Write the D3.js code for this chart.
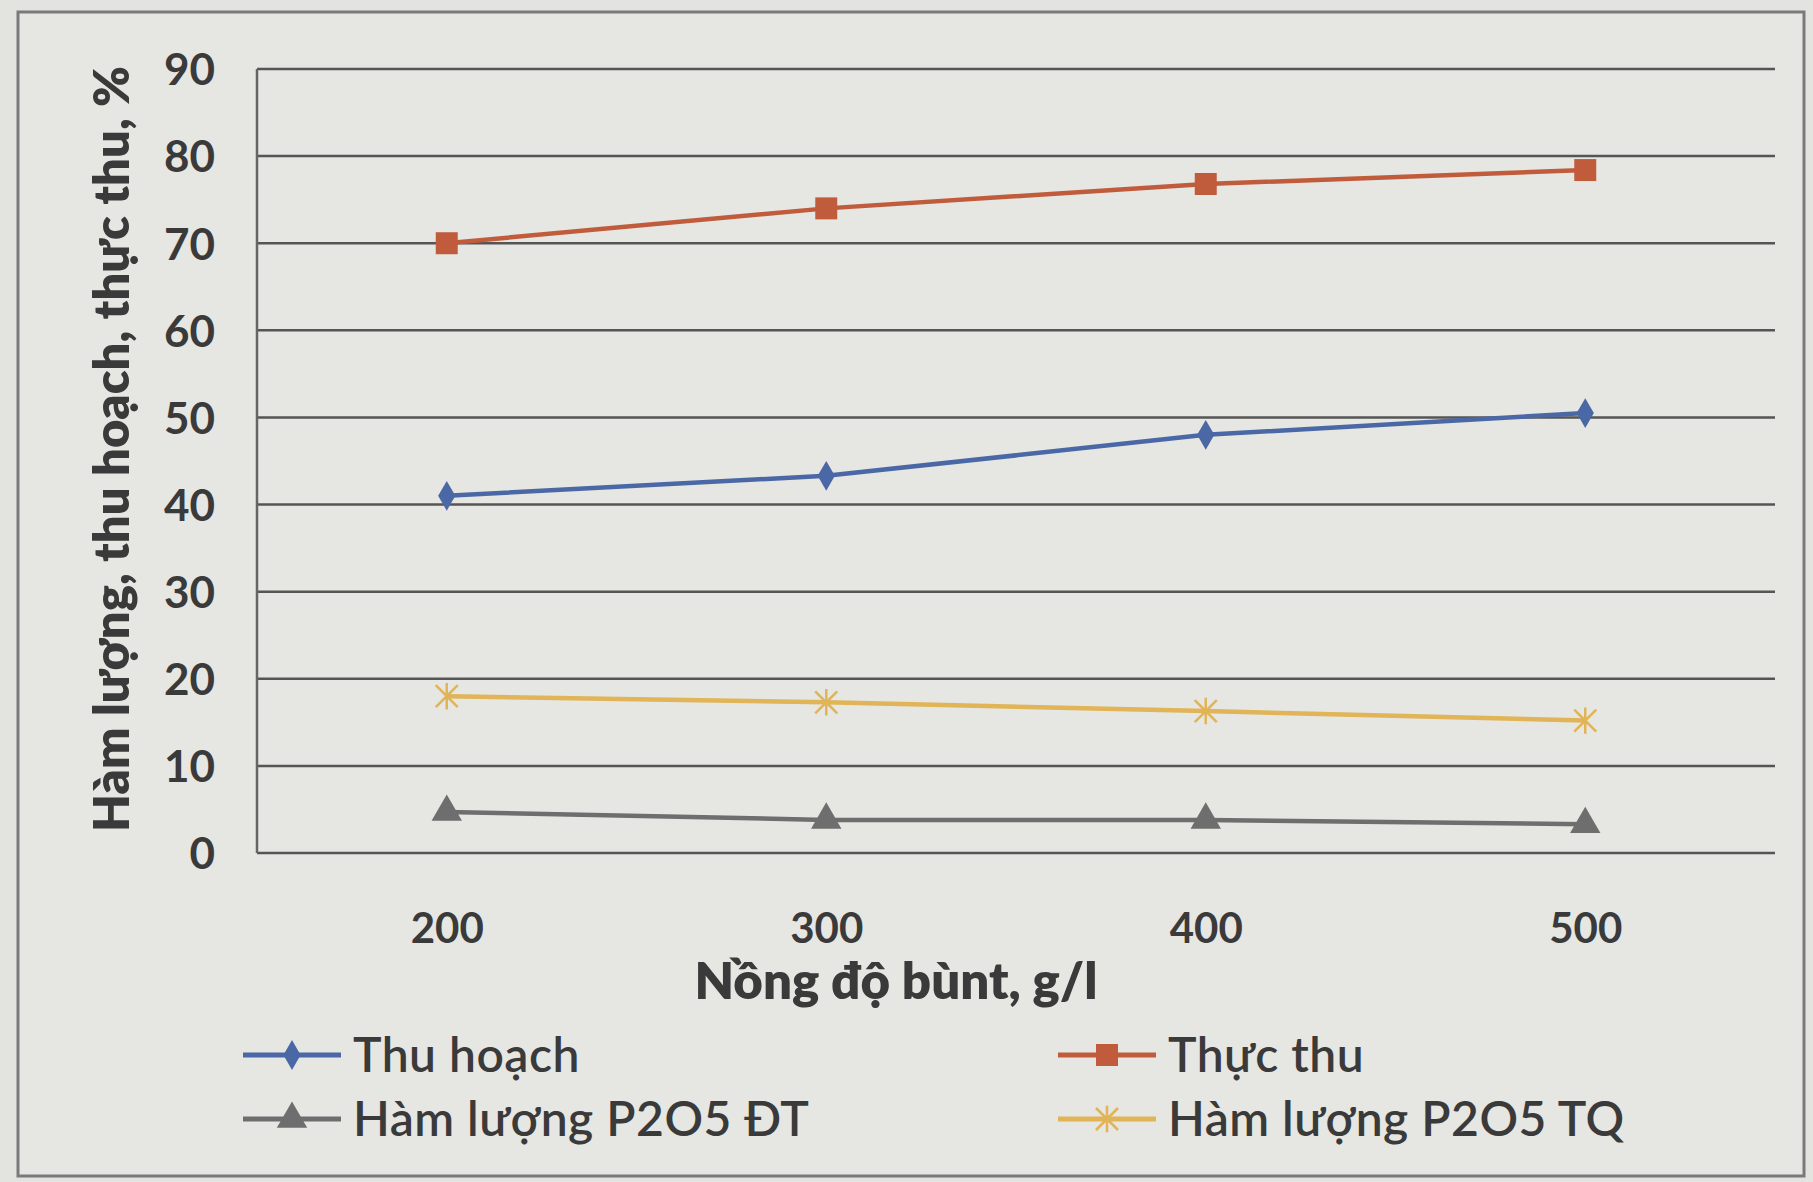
<!DOCTYPE html>
<html><head><meta charset="utf-8">
<script src="https://cdn.jsdelivr.net/npm/d3@7"></script>
<style>
html,body{margin:0;padding:0;background:#e3e3df;}
text{font-family:Lato, "Open Sans", sans-serif;fill:#3a3a3a;}
</style></head>
<body><svg id="c" width="1813" height="1182"></svg>
<script>
const categories = ["200","300","400","500"];
const thuHoach = [41, 43.3, 48, 50.5];
const thucThu = [70, 74, 76.8, 78.4];
const p2o5DT = [4.7, 3.8, 3.8, 3.3];
const p2o5TQ = [18, 17.3, 16.3, 15.2];
const yTicks = [0,10,20,30,40,50,60,70,80,90];
const seriesNames = ["Thu hoạch","Thực thu","Hàm lượng P2O5 ĐT","Hàm lượng P2O5 TQ"];
const colors = ["#4a67a6","#c05c3c","#6e6e6e","#e0b457"];
const symbols = [d3.symbolDiamond, d3.symbolSquare, d3.symbolTriangle, "x"];
const series = [thuHoach, thucThu, p2o5DT, p2o5TQ];

const svg = d3.select("#c");
svg.append("rect").attr("x",0).attr("y",0).attr("width",1813).attr("height",1182).attr("fill","#e3e3df");
svg.append("rect").attr("x",18).attr("y",12).attr("width",1786).attr("height",1164)
  .attr("fill","#e6e6e2").attr("stroke","#7a7a7a").attr("stroke-width",3);

const pL=257, pR=1775, pT=69, pB=853;
const x = d3.scalePoint().domain(categories).range([pL,pR]).padding(0.5);
const y = d3.scaleLinear().domain([0,90]).range([pB,pT]);

// gridlines
svg.append("g").selectAll("line").data(yTicks).join("line")
  .attr("x1",pL).attr("x2",pR).attr("y1",d=>y(d)).attr("y2",d=>y(d))
  .attr("stroke","#555").attr("stroke-width",2.5);
// left axis line
svg.append("line").attr("x1",pL).attr("x2",pL).attr("y1",pT).attr("y2",pB)
  .attr("stroke","#666").attr("stroke-width",2.5);

// y axis labels
const ya = svg.append("g").attr("transform",`translate(${pL},0)`)
  .call(d3.axisLeft(y).tickValues(yTicks).tickSize(0).tickPadding(42));
ya.select(".domain").remove();
ya.selectAll("text").attr("font-size",44).attr("font-weight",700).attr("fill","#3a3a3a")
  .attr("font-family","Lato").attr("dy","0.36em");

// x axis labels
const xa = svg.append("g").attr("transform",`translate(0,${pB})`)
  .call(d3.axisBottom(x).tickSize(0).tickPadding(60));
xa.select(".domain").remove();
xa.selectAll("text").attr("font-size",42).attr("font-weight",700).attr("fill","#3a3a3a")
  .attr("font-family","Lato");

// titles
svg.append("text").attr("transform","translate(129,449) rotate(-90)")
  .attr("text-anchor","middle").attr("font-size",49).attr("font-weight",800)
  .text("Hàm lượng, thu hoạch, thực thu, %");
svg.append("text").attr("x",896).attr("y",999).attr("text-anchor","middle")
  .attr("font-size",51).attr("font-weight",800).text("Nồng độ bùnt, g/l");

function drawMarker(g, sym, cx, cy, color, size){
  if(sym==="x"){
    const s=size*0.55;
    g.append("path").attr("d",`M${cx-s},${cy-s}L${cx+s},${cy+s}M${cx-s},${cy+s}L${cx+s},${cy-s}M${cx},${cy-s*1.2}L${cx},${cy+s*1.2}`)
      .attr("stroke",color).attr("stroke-width",2.5).attr("fill","none");
  } else {
    g.append("path").attr("d",d3.symbol().type(sym).size(size*size)())
      .attr("transform",`translate(${cx},${cy})`).attr("fill",color);
  }
}

const sizes = [16,22,20,20];
const line = d3.line().x((d,i)=>x(categories[i])).y(d=>y(d));
series.forEach((s,k)=>{
  const g = svg.append("g");
  g.append("path").datum(s).attr("d",line).attr("fill","none")
    .attr("stroke",colors[k]).attr("stroke-width",4.5);
  s.forEach((v,i)=>drawMarker(g, symbols[k], x(categories[i]), y(v), colors[k], sizes[k]));
});

// legend
const legPos = [[243,1055],[1058,1055],[243,1119],[1058,1119]];
seriesNames.forEach((n,k)=>{
  const [lx,ly]=legPos[k];
  const g = svg.append("g");
  g.append("line").attr("x1",lx).attr("x2",lx+98).attr("y1",ly).attr("y2",ly)
    .attr("stroke",colors[k]).attr("stroke-width",5);
  drawMarker(g, symbols[k], lx+49, ly, colors[k], sizes[k]);
  g.append("text").attr("x",lx+110).attr("y",ly).attr("dy","0.35em")
    .attr("font-size",48).attr("font-weight",600).attr("letter-spacing",0.5).text(n);
});
</script></body></html>
